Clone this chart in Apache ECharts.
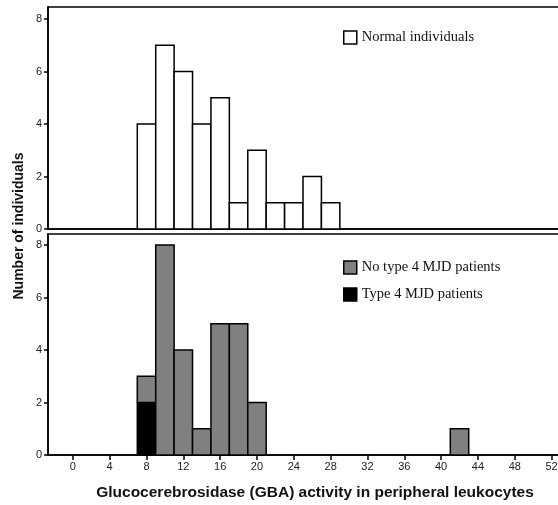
<!DOCTYPE html>
<html>
<head>
<meta charset="utf-8">
<script src="https://cdn.jsdelivr.net/npm/echarts@6/dist/echarts.min.js"></script>
<style>
html, body { margin: 0; padding: 0; background: #fff; overflow: hidden; }
#chart { width: 558px; height: 505px; }
</style>
</head>
<body>
<div id="chart"></div>
<script>
// bin edges (width 2) and counts
var binWidth = 2;
var normalBins = [7, 9, 11, 13, 15, 17, 19, 21, 23, 25, 27];
var normalCounts = [4, 7, 6, 4, 5, 1, 3, 1, 1, 2, 1];

var patientBins = [7, 9, 11, 13, 15, 17, 19, 41];
var type4Counts = [2, 0, 0, 0, 0, 0, 0, 0];
var noType4Counts = [1, 8, 4, 1, 5, 5, 2, 1];

var xTicks = [0, 4, 8, 12, 16, 20, 24, 28, 32, 36, 40, 44, 48, 52];
var yTicks = [0, 2, 4, 6, 8];

var normalName = 'Normal individuals';
var noType4Name = 'No type 4 MJD patients';
var type4Name = 'Type 4 MJD patients';

// histogram rows: [start, end, base, top]
function makeRows(bins, counts, bases) {
	var rows = [];
	for (var i = 0; i < bins.length; i++) {
		var base = bases ? bases[i] : 0;
		if (counts[i] > 0) {
			rows.push([bins[i], bins[i] + binWidth, base, base + counts[i]]);
		}
	}
	return rows;
}

function renderBar(params, api) {
	var p0 = api.coord([api.value(0), api.value(2)]);
	var p1 = api.coord([api.value(1), api.value(3)]);
	return {
		type: 'rect',
		shape: { x: p0[0], y: p1[1], width: p1[0] - p0[0], height: p0[1] - p1[1] },
		style: api.style({ stroke: '#000', lineWidth: 1.5 })
	};
}

var dom = document.getElementById('chart');
var myChart = echarts.init(dom, null, { renderer: 'canvas' });

// the frame's right edge lies just past the picture, as in the original crop
var xMin = -2.7;
var xMax = 53.35;

function xAxisOf(idx, showLabels) {
	return {
		type: 'value',
		gridIndex: idx,
		min: xMin,
		max: xMax,
		axisLine: { show: true, onZero: false, lineStyle: { color: '#000', width: 1.5 } },
		axisTick: { show: showLabels, length: 5, lineStyle: { color: '#000', width: 1.5 }, customValues: xTicks },
		axisLabel: { show: showLabels, color: '#222', fontSize: 11, fontFamily: 'Liberation Sans', margin: 6, customValues: xTicks },
		splitLine: { show: false }
	};
}

function yAxisOf(idx, max) {
	return {
		type: 'value',
		gridIndex: idx,
		min: 0,
		max: max,
		axisLine: { show: true, onZero: false, lineStyle: { color: '#000', width: 1.5 } },
		axisTick: { show: true, length: 4, lineStyle: { color: '#000', width: 1.5 }, customValues: yTicks },
		axisLabel: { show: true, color: '#222', fontSize: 11, fontFamily: 'Liberation Sans', margin: 6, customValues: yTicks },
		splitLine: { show: false }
	};
}

var option = {
	backgroundColor: '#ffffff',
	animation: false,
	grid: [{
		left: 48, top: 7, width: 516, height: 222, outerBoundsMode: 'none',
		show: true, borderColor: '#000', borderWidth: 1.5, backgroundColor: 'transparent'
	}, {
		left: 48, top: 234, width: 516, height: 221, outerBoundsMode: 'none',
		show: true, borderColor: '#000', borderWidth: 1.5, backgroundColor: 'transparent'
	}],
	xAxis: [xAxisOf(0, false), xAxisOf(1, true)],
	yAxis: [yAxisOf(0, 8.46), yAxisOf(1, 8.42)],
	legend: [{
		left: 338, top: 25,
		itemWidth: 13, itemHeight: 13, itemGap: 12,
		textStyle: { fontFamily: 'Liberation Serif', fontSize: 14.5, color: '#111' },
		data: [{ name: normalName, icon: 'rect', itemStyle: { color: '#fff', borderColor: '#000', borderWidth: 1.5 } }]
	}, {
		left: 338, top: 255, orient: 'vertical',
		itemWidth: 13, itemHeight: 13, itemGap: 12,
		textStyle: { fontFamily: 'Liberation Serif', fontSize: 14.5, color: '#111' },
		data: [
			{ name: noType4Name, icon: 'rect', itemStyle: { color: '#808080', borderColor: '#000', borderWidth: 1.5 } },
			{ name: type4Name, icon: 'rect', itemStyle: { color: '#000', borderColor: '#000', borderWidth: 1.5 } }
		]
	}],
	graphic: [{
		type: 'text',
		x: 315, y: 493,
		style: {
			text: 'Glucocerebrosidase (GBA) activity in peripheral leukocytes',
			font: 'bold 15.5px "Liberation Sans"', fill: '#111',
			align: 'center', verticalAlign: 'middle'
		}
	}, {
		type: 'text',
		x: 19, y: 226, rotation: Math.PI / 2,
		style: {
			text: 'Number of individuals',
			font: 'bold 14px "Liberation Sans"', fill: '#111',
			align: 'center', verticalAlign: 'middle'
		}
	}],
	series: [{
		name: normalName,
		type: 'custom',
		xAxisIndex: 0, yAxisIndex: 0,
		itemStyle: { color: '#fff' },
		renderItem: renderBar,
		encode: { x: [0, 1], y: [2, 3] },
		data: makeRows(normalBins, normalCounts)
	}, {
		name: type4Name,
		type: 'custom',
		xAxisIndex: 1, yAxisIndex: 1,
		itemStyle: { color: '#000' },
		renderItem: renderBar,
		encode: { x: [0, 1], y: [2, 3] },
		data: makeRows(patientBins, type4Counts)
	}, {
		name: noType4Name,
		type: 'custom',
		xAxisIndex: 1, yAxisIndex: 1,
		itemStyle: { color: '#808080' },
		renderItem: renderBar,
		encode: { x: [0, 1], y: [2, 3] },
		data: makeRows(patientBins, noType4Counts, type4Counts)
	}]
};

myChart.setOption(option);
</script>
</body>
</html>
